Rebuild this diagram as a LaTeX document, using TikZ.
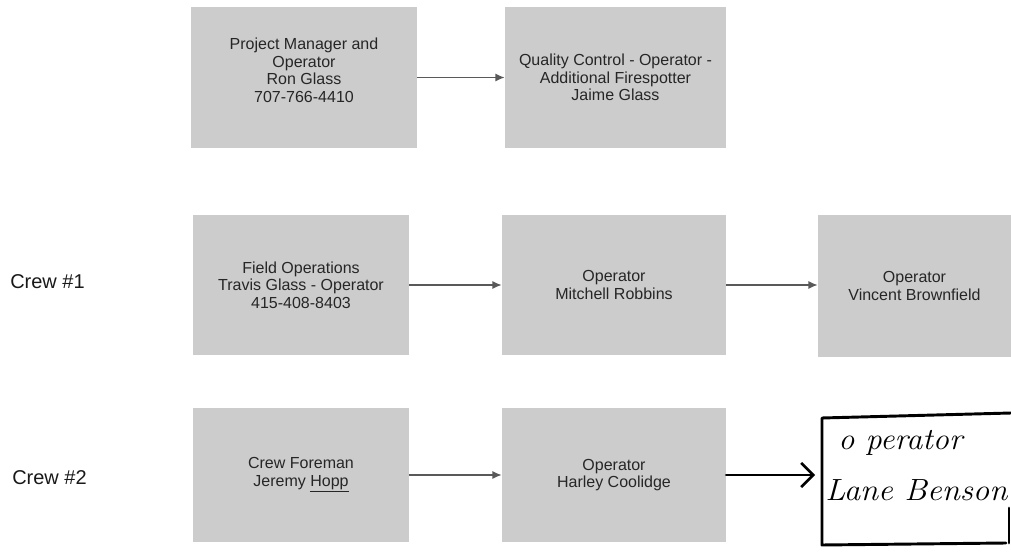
\documentclass[tikz,border=0pt]{standalone}
\usepackage{fontspec}
\setmainfont{Liberation Sans}
\newfontfamily\handfont{Latin Modern Roman}
\usetikzlibrary{arrows.meta}
\begin{document}
\begin{tikzpicture}[x=0.75pt,y=-0.75pt,
  box/.style={fill=black!20, draw=none, align=center, inner sep=0pt,
    font=\fontsize{12}{13.2}\selectfont, text=black!85},
  conn/.style={draw=black!65, line width=1.1pt, -{Latex[length=7pt,width=6pt]}},
  crew/.style={font=\fontsize{15}{18}\selectfont, text=black!90, anchor=west, inner sep=0pt},
  hand/.style={draw=black, line width=2.2pt, line cap=round, line join=round},
  handtext/.style={font=\handfont\itshape\fontsize{23}{25}\selectfont, anchor=west, inner sep=0pt}
]
\useasboundingbox (0,0) rectangle (1011,552);

% row 1
\node[box, minimum width=169.5pt, minimum height=105.75pt] (A) at (304,77.5)
  {Project Manager and\\Operator\\Ron Glass\\707-766-4410\\[-2.5pt]};
\node[box, minimum width=165.75pt, minimum height=105.75pt] (B) at (615.5,77.5)
  {Quality Control - Operator -\\Additional Firespotter\\Jaime Glass};
\draw[conn] (A) -- (B);

% row 2
\node[crew] (crew1) at (10,282) {Crew \#1};
\node[box, minimum width=162pt, minimum height=105pt] (C) at (301,285)
  {Field Operations\\Travis Glass - Operator\\415-408-8403};
\node[box, minimum width=168pt, minimum height=105pt] (D) at (614,285)
  {Operator\\Mitchell Robbins};
\node[box, minimum width=144.75pt, minimum height=106.5pt] (E) at (914.5,286)
  {Operator\\Vincent Brownfield};
\draw[conn] (C) -- (D);
\draw[conn] (D) -- (D.east -| E.west);

% row 3
\node[crew] (crew2) at (12,478) {Crew \#2};
\node[box, minimum width=162pt, minimum height=100.5pt] (F) at (301,475)
  {Crew Foreman\\Jeremy \underline{Hopp}};
\node[box, minimum width=168pt, minimum height=99.75pt] (G) at (614,475)
  {Operator\\Harley Coolidge};
\draw[conn] (F) -- (G);

% handwritten box
\node[minimum width=141.75pt, minimum height=96.75pt, inner sep=0pt] (H) at (916.5,480.5) {};
\coordinate (h1) at (822,418);
\coordinate (h2) at (1011,413);
\coordinate (h3) at (822,545);
\coordinate (h4) at (1006,543);
\coordinate (h5) at (1009,508);
\coordinate (h6) at (1009,543);
\draw[hand] (h2) -- (h1) -- (h3) -- (h4);
\draw[hand] (h5) -- (h6);
\draw[hand, shorten >=5pt, -{Straight Barb[length=9pt,width=18pt,line width=2pt]}] (G.east) -- (G.east -| H.west);
\node[handtext] (h7) at (838,443) {\scalebox{1.05}[1]{o perator}};
\node[handtext] (h8) at (825,490) {\scalebox{1.07}[1]{Lane Benson}};
\end{tikzpicture}
\end{document}
